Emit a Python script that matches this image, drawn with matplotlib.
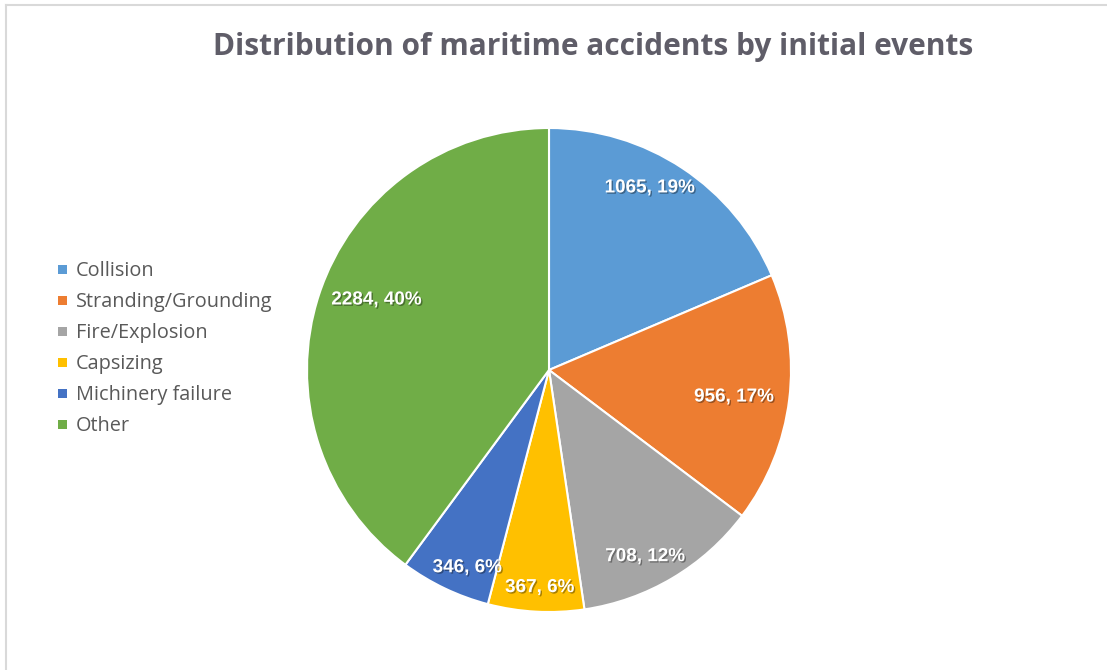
import numpy as np
import matplotlib
matplotlib.use("Agg")
import matplotlib.pyplot as plt
import matplotlib.patheffects as pe
from matplotlib.patches import Rectangle
from matplotlib.lines import Line2D

categories = ["Collision", "Stranding/Grounding", "Fire/Explosion", "Capsizing",
              "Michinery failure", "Other"]
values = [1065, 956, 708, 367, 346, 2284]
percent_labels = ["19%", "17%", "12%", "6%", "6%", "40%"]
colors = ["#5B9BD5", "#ED7D31", "#A5A5A5", "#FFC000", "#4472C4", "#70AD47"]
label_radius = [0.86, 0.773, 0.868, 0.90, 0.884, 0.769]
label_angle_nudge = [4.5, -1.3, -3.4, 0.7, 3.1, -3.9]
title = "Distribution of maritime accidents by initial events"

W, H = 1107, 670
fig = plt.figure(figsize=(W / 100, H / 100), dpi=100)

# border (top and left visible)
fig.add_artist(Line2D([6 / W, 1.0], [1 - 5 / H, 1 - 5 / H], color="#d9d9d9", lw=1.5))
fig.add_artist(Line2D([6 / W, 6 / W], [0, 1 - 5 / H], color="#d9d9d9", lw=1.5))

cx, cy, r = 549, 370, 242
ax = fig.add_axes([(cx - r) / W, (H - cy - r) / H, 2 * r / W, 2 * r / H])
wedges, _ = ax.pie(values, colors=colors, startangle=90, counterclock=False,
                   radius=1.0, wedgeprops=dict(edgecolor="white", linewidth=1.5))
ax.set_xlim(-1, 1)
ax.set_ylim(-1, 1)
ax.set_aspect("equal")
ax.axis("off")

for w, v, p, rr, dn in zip(wedges, values, percent_labels, label_radius, label_angle_nudge):
    ang = np.deg2rad((w.theta1 + w.theta2) / 2 + dn)
    ax.text(rr * np.cos(ang), rr * np.sin(ang), f"{v}, {p}", ha="center", va="center",
            color="white", fontsize=13.6, fontweight="bold", family="Liberation Sans",
            path_effects=[pe.SimplePatchShadow(offset=(1, -1), shadow_rgbFace="black", alpha=0.35),
                          pe.Normal()])

fig.text(593 / W, 1 - 47 / H, title, ha="center", va="center", fontsize=21.5,
         fontweight="bold", color="#5f5d68", family="Open Sans")

# legend
leg_y0 = 271
for i, (c, name) in enumerate(zip(colors, categories)):
    y = leg_y0 + i * 31
    fig.add_artist(Rectangle((58 / W, 1 - (y + 3) / H), 9 / W, 9 / H,
                             facecolor=c, edgecolor="none", transform=fig.transFigure))
    fig.text(76 / W, 1 - y / H, name, ha="left", va="center", fontsize=14.3,
             color="#595959", family="Open Sans")

fig.savefig("out.png", dpi=100)
